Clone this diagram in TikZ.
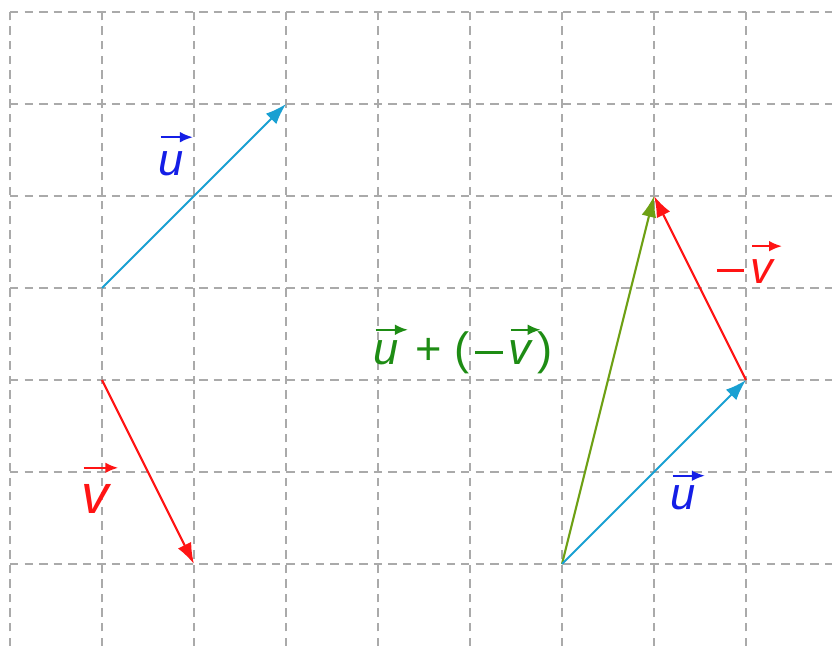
\documentclass[tikz,border=0pt]{standalone}
\usepackage{fontspec}
\setmainfont{Liberation Sans}
\usetikzlibrary{arrows.meta}
\definecolor{ucol}{RGB}{25,160,210}
\definecolor{ulab}{RGB}{20,30,230}
\definecolor{vcol}{RGB}{255,20,20}
\definecolor{gcol}{RGB}{110,160,20}
\definecolor{glab}{RGB}{30,140,20}
\definecolor{gridcol}{RGB}{170,170,170}
\newcommand{\vlab}[2][3.8pt]{\tikz[baseline=(vl.base)]{\node[inner sep=0pt, outer sep=0pt, anchor=base] (vl) at (0,0) {\itshape #2};
  \draw[overlay, line width=0.65pt, -{Latex[length=4pt,width=3.3pt]}] ([xshift=0.6pt,yshift=#1]vl.north west) -- ([xshift=2.8pt,yshift=#1]vl.north east);}}
\newcommand{\mns}{\kern0.12em\rule[0.25em]{0.6em}{0.055em}\kern0.14em}
\tikzset{
  gridline/.style={gridcol, line width=0.5pt, dash pattern=on 2.6pt off 1.9pt},
  vecline/.style={line width=0.65pt, -{Latex[length=6.5pt,width=4.6pt]}},
  lab/.style={font=\fontsize{14}{16}\selectfont, inner sep=0pt, anchor=base west}
}
\begin{document}
\begin{tikzpicture}
\useasboundingbox (-0.1087,-0.8913) rectangle (8.9348,6.1304);
\draw[gridline] (0,-0.8913) grid (8.9348,6);
% points
\coordinate (uA) at (1,3);
\coordinate (uB) at (3,5);
\coordinate (vA) at (1,2);
\coordinate (vB) at (2,0);
\coordinate (O) at (6,0);
\coordinate (P) at (8,2);
\coordinate (Q) at (7,4);
% vectors
\draw[vecline, ucol] (uA) -- (uB);
\draw[vecline, vcol] (vA) -- (vB);
\draw[vecline, gcol] (O) -- (Q);
\draw[vecline, ucol] (O) -- (P);
\draw[vecline, vcol] (P) -- (Q);
% labels
\node[lab, text=ulab] (lu1) at (1.609,4.228) {\vlab[4.3pt]{u}};
\node[lab, text=vcol, font=\fontsize{17}{19}\selectfont] (lv) at (0.772,0.554) {\vlab[5pt]{v}};
\node[lab, text=ulab] (lu2) at (7.174,0.587) {\vlab[3.2pt]{u}};
\node[lab, text=vcol] (lmv) at (7.617,3.054) {\mns\vlab[4pt]{v}};
\node[lab, text=glab] (lg) at (3.946,2.163) {\vlab[3.5pt]{u}\kern0.1em{} + (\mns\vlab[3.5pt]{v}\kern0.12em)};
\end{tikzpicture}
\end{document}
